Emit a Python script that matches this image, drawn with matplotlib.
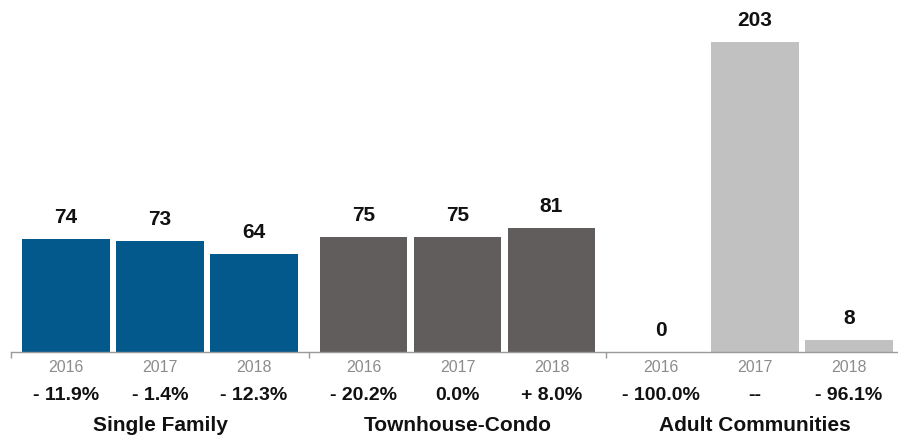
import matplotlib.pyplot as plt

plt.rcParams['font.family'] = ['Liberation Sans', 'DejaVu Sans']

categories = ['Single Family', 'Townhouse-Condo', 'Adult Communities']
years = ['2016', '2017', '2018']
values = [
    [74, 73, 64],
    [75, 75, 81],
    [0, 203, 8],
]
changes = [
    ['- 11.9%', '- 1.4%', '- 12.3%'],
    ['- 20.2%', '0.0%', '+ 8.0%'],
    ['- 100.0%', '--', '- 96.1%'],
]
colors = ['#03598b', '#625d5d', '#c1c1c1']

W, H = 898, 438
fig = plt.figure(figsize=(W / 100, H / 100), dpi=100)

# axes placed in pixels: baseline at y=352, left edge at x=11
ax_h = 336
ax = fig.add_axes([11 / W, 86 / H, 887 / W, ax_h / H])

group_gap = 3.165
offset = 0.585
bar_w = 0.936

for g, cat in enumerate(categories):
    xs = [g * group_gap + i + offset for i in range(3)]
    ax.bar(xs, values[g], width=bar_w, color=colors[g], linewidth=0)
    for i, x in enumerate(xs):
        ax.annotate(str(values[g][i]), (x, values[g][i]), xytext=(0, 16 * 0.72),
                    textcoords='offset points', ha='center', va='baseline',
                    fontsize=15, fontweight='bold', color='#111111')
        tr = ax.get_xaxis_transform()
        ax.text(x, -20 / ax_h, years[i], transform=tr, ha='center', va='baseline',
                fontsize=11.5, color='#8c8c8c')
        ax.text(x, -48.5 / ax_h, changes[g][i], transform=tr, ha='center', va='baseline',
                fontsize=14, fontweight='bold', color='#111111')
    ax.text(xs[1], -79 / ax_h, cat, transform=ax.get_xaxis_transform(), ha='center',
            va='baseline', fontsize=15, fontweight='bold', color='#111111')

ax.set_xlim(0, 887 / 94)
ax.set_ylim(0, 220)

for side in ['top', 'right', 'left']:
    ax.spines[side].set_visible(False)
ax.spines['bottom'].set_color('#9a9a9a')
ax.spines['bottom'].set_linewidth(1)
ax.set_yticks([])
ax.set_xticks([0, group_gap, 2 * group_gap])
ax.set_xticklabels([])
ax.tick_params(axis='x', direction='out', length=4, width=1, color='#9a9a9a')

fig.savefig('out.png', dpi=100)
